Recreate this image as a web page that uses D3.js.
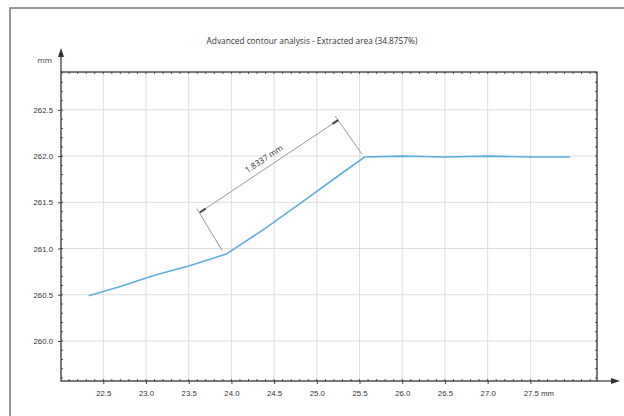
<!DOCTYPE html>
<html>
<head>
<meta charset="utf-8">
<script src="https://cdn.jsdelivr.net/npm/d3@7"></script>
<style>
body { margin: 0; background: #fff; }
svg { display: block; font-family: "Open Sans", "DejaVu Sans", sans-serif; }
</style>
</head>
<body>
<script>
// profile (mm)
var profX = [22.33, 22.7, 23.1, 23.5, 23.94, 24.4, 24.9, 25.3, 25.56, 26.0, 26.5, 27.0, 27.5, 27.965];
var profY = [260.49, 260.59, 260.71, 260.81, 260.94, 261.22, 261.55, 261.82, 261.99, 262.00, 261.99, 262.00, 261.99, 261.99];
var xTicks = [22.5, 23.0, 23.5, 24.0, 24.5, 25.0, 25.5, 26.0, 26.5, 27.0, 27.5];
var yTicks = [260.0, 260.5, 261.0, 261.5, 262.0, 262.5];
var title = "Advanced contour analysis - Extracted area (34.8757%)";
var dimLabel = "1.8337 mm";
// dimension line ends and extension line feet
var dimA = [23.63, 261.39], dimB = [25.25, 262.39];
var extA = [23.89, 260.98], extB = [25.53, 262.02];

var W = 624, H = 416;
var pl = 61, pr = 597, pt = 72, pb = 381;

var svg = d3.select("body").append("svg").attr("width", W).attr("height", H);

var x = d3.scaleLinear().domain([22.005, 28.28]).range([pl, pr]);
var y = d3.scaleLinear().domain([259.567, 262.91]).range([pb, pt]);

// outer frame
svg.append("rect").attr("x", 10).attr("y", 8).attr("width", 640).attr("height", 440)
  .attr("fill", "none").attr("stroke", "#777").attr("stroke-width", 1.5);

svg.append("text").attr("x", 312).attr("y", 44).attr("text-anchor", "middle")
  .attr("font-size", 8.3).attr("fill", "#333").text(title);

// grid
svg.append("g").selectAll("line").data(xTicks).join("line")
  .attr("x1", d => x(d)).attr("x2", d => x(d)).attr("y1", pt).attr("y2", pb)
  .attr("stroke", "#ddd").attr("stroke-width", 1);
svg.append("g").selectAll("line").data(yTicks).join("line")
  .attr("y1", d => y(d)).attr("y2", d => y(d)).attr("x1", pl).attr("x2", pr)
  .attr("stroke", "#ddd").attr("stroke-width", 1);

// axes
var xAxis = svg.append("g").attr("transform", "translate(0," + pb + ")")
  .call(d3.axisBottom(x).tickValues(xTicks).tickSize(3).tickPadding(6)
    .tickFormat((d, i) => d.toFixed(1) + (i == xTicks.length - 1 ? " mm" : "")));
var yAxis = svg.append("g").attr("transform", "translate(" + pl + ",0)")
  .call(d3.axisLeft(y).tickValues(yTicks).tickSize(3).tickPadding(5).tickFormat(d => d.toFixed(1)));
[xAxis, yAxis].forEach(function (g) {
  g.select(".domain").remove();
  g.selectAll("line").attr("stroke", "#444");
  g.selectAll("text").attr("font-size", 7.8).attr("fill", "#333");
});
xAxis.selectAll("text").filter((d, i) => i == xTicks.length - 1).attr("dx", 8);

// minor ticks
var minX = d3.range(221, 283).map(d => d / 10);
var minY = d3.range(2596, 2630).map(d => d / 10);
var mt = svg.append("g").attr("stroke", "#555").attr("stroke-width", 1);
minX.forEach(function (d) {
  mt.append("line").attr("x1", x(d)).attr("x2", x(d)).attr("y1", pb).attr("y2", pb - 2);
  mt.append("line").attr("x1", x(d)).attr("x2", x(d)).attr("y1", pt).attr("y2", pt + 2);
});
minY.forEach(function (d) {
  mt.append("line").attr("y1", y(d)).attr("y2", y(d)).attr("x1", pl).attr("x2", pl + 2);
  mt.append("line").attr("y1", y(d)).attr("y2", y(d)).attr("x1", pr).attr("x2", pr - 2);
});

// plot border
svg.append("rect").attr("x", pl).attr("y", pt).attr("width", pr - pl).attr("height", pb - pt)
  .attr("fill", "none").attr("stroke", "#333").attr("stroke-width", 1.3);

// axis arrows
svg.append("line").attr("x1", pl).attr("x2", pl).attr("y1", pt).attr("y2", 52)
  .attr("stroke", "#333").attr("stroke-width", 1.2);
svg.append("path").attr("d", "M" + pl + ",48L" + (pl - 3) + ",57L" + (pl + 3) + ",57Z").attr("fill", "#333");
svg.append("line").attr("x1", pr).attr("x2", 615).attr("y1", pb).attr("y2", pb)
  .attr("stroke", "#333").attr("stroke-width", 1.2);
svg.append("path").attr("d", "M620," + pb + "L611," + (pb - 3) + "L611," + (pb + 3) + "Z").attr("fill", "#333");
svg.append("text").attr("x", 52).attr("y", 63).attr("text-anchor", "end")
  .attr("font-size", 7.8).attr("fill", "#333").text("mm");

// profile
var pts = profX.map((d, i) => [d, profY[i]]);
svg.append("path").datum(pts)
  .attr("d", d3.line().x(d => x(d[0])).y(d => y(d[1])))
  .attr("fill", "none").attr("stroke", "#5eaddf").attr("stroke-width", 1.6);

// dimension
var dg = svg.append("g").attr("stroke", "#999").attr("stroke-width", 1);
dg.append("line").attr("x1", x(extA[0])).attr("y1", y(extA[1])).attr("x2", x(dimA[0]) - 3).attr("y2", y(dimA[1]) - 4);
dg.append("line").attr("x1", x(extB[0])).attr("y1", y(extB[1])).attr("x2", x(dimB[0]) - 3).attr("y2", y(dimB[1]) - 4);
dg.append("line").attr("x1", x(dimA[0])).attr("y1", y(dimA[1])).attr("x2", x(dimB[0])).attr("y2", y(dimB[1]));
var ax = x(dimA[0]), ay = y(dimA[1]), bx = x(dimB[0]), by = y(dimB[1]);
var len = Math.hypot(bx - ax, by - ay), ux = (bx - ax) / len, uy = (by - ay) / len;
[[ax, ay, 1], [bx, by, -1]].forEach(function (p) {
  dg.append("line").attr("x1", p[0]).attr("y1", p[1])
    .attr("x2", p[0] + p[2] * ux * 7).attr("y2", p[1] + p[2] * uy * 7)
    .attr("stroke", "#444").attr("stroke-width", 2);
});
var ang = Math.atan2(by - ay, bx - ax) * 180 / Math.PI;
var mx = (ax + bx) / 2 + uy * 6, my = (ay + by) / 2 - ux * 6;
svg.append("text").attr("transform", "translate(" + mx + "," + my + ") rotate(" + ang + ")")
  .attr("text-anchor", "middle").attr("font-size", 8.3).attr("fill", "#333").text(dimLabel);
</script>
</body>
</html>
